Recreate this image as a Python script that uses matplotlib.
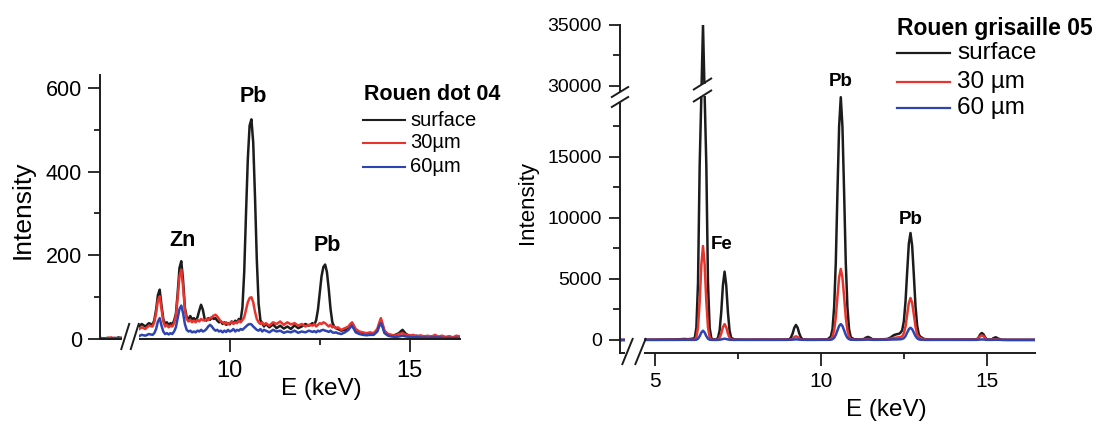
import numpy as np
import matplotlib
matplotlib.use("Agg")
import matplotlib.pyplot as plt
from matplotlib.lines import Line2D
from matplotlib.patches import Rectangle

# ---------------- data : left panel (Rouen dot 04) ----------------
E_left = [6.4, 6.5, 6.6, 6.7, 6.8, 6.9, 7.0,
          7.45, 7.55, 7.65, 7.75, 7.85, 7.9, 7.95, 8.0, 8.05, 8.1,
          8.15, 8.2, 8.25, 8.3, 8.35, 8.4, 8.45, 8.5, 8.55, 8.6,
          8.65, 8.7, 8.75, 8.8, 8.85, 8.9, 8.95, 9.0, 9.05, 9.1,
          9.15, 9.2, 9.25, 9.3, 9.35, 9.4, 9.45, 9.5, 9.55, 9.6,
          9.65, 9.7, 9.75, 9.8, 9.85, 9.9, 9.95, 10.0, 10.05, 10.1,
          10.15, 10.2, 10.25, 10.3, 10.35, 10.4, 10.45, 10.5, 10.55, 10.6,
          10.65, 10.7, 10.75, 10.8, 10.85, 10.9, 10.95, 11.0, 11.1, 11.2,
          11.3, 11.4, 11.5, 11.6, 11.7, 11.8, 11.9, 12.0, 12.1, 12.2,
          12.3, 12.35, 12.4, 12.45, 12.5, 12.55, 12.6, 12.65, 12.7, 12.75,
          12.8, 12.85, 12.9, 12.95, 13.0, 13.1, 13.2, 13.3, 13.35, 13.4,
          13.45, 13.5, 13.6, 13.7, 13.8, 13.9, 14.0, 14.1, 14.15, 14.2,
          14.25, 14.3, 14.4, 14.5, 14.6, 14.7, 14.8, 14.9, 15.0, 15.1,
          15.2, 15.3, 15.4, 15.5, 15.6, 15.7, 15.8, 15.9, 16.0, 16.1,
          16.2, 16.3, 16.4]
surface_left = [2, 0, 3, 1, 0, 4, 2,
                28, 36, 30, 38, 34, 45, 70, 105, 118, 80,
                48, 36, 40, 33, 38, 35, 44, 60, 110, 170,
                186, 140, 75, 52, 48, 55, 47, 50, 44, 52,
                68, 82, 70, 48, 44, 50, 46, 52, 48, 50,
                44, 40, 42, 36, 40, 34, 38, 35, 42, 38,
                44, 40, 48, 45, 75, 160, 300, 430, 510, 525,
                470, 340, 190, 85, 45, 38, 30, 36, 28, 35,
                26, 32, 25, 30, 24, 33, 26, 30, 36, 32,
                38, 34, 45, 70, 110, 150, 172, 178, 160, 120,
                72, 40, 30, 26, 24, 20, 22, 24, 30, 34,
                26, 20, 16, 14, 12, 14, 12, 20, 32, 42,
                30, 18, 10, 8, 10, 14, 22, 12, 8, 6,
                8, 5, 7, 4, 6, 5, 4, 6, 3, 5,
                4, 3, 5]
um30_left = [3, 1, 2, 4, 1, 2, 3,
             22, 28, 24, 32, 30, 40, 62, 92, 102, 72,
             42, 30, 34, 28, 32, 30, 38, 55, 100, 150,
             166, 125, 70, 48, 42, 46, 40, 44, 40, 46,
             42, 48, 45, 44, 48, 46, 50, 52, 56, 58,
             54, 48, 42, 40, 36, 40, 35, 38, 42, 36,
             40, 38, 44, 40, 45, 52, 70, 88, 98, 100,
             88, 65, 48, 40, 36, 40, 34, 38, 32, 40,
             36, 42, 34, 40, 35, 38, 32, 36, 30, 34,
             32, 36, 30, 34, 38, 36, 40, 38, 34, 30,
             34, 28, 30, 26, 28, 22, 26, 30, 36, 40,
             32, 24, 18, 16, 14, 16, 14, 24, 38, 50,
             36, 20, 12, 10, 8, 12, 14, 10, 8, 10,
             6, 9, 6, 8, 5, 10, 6, 8, 5, 7,
             4, 8, 6]
um60_left = [1, 2, 0, 1, 3, 1, 2,
             6, 10, 8, 12, 10, 14, 24, 42, 50, 32,
             18, 12, 14, 11, 14, 12, 18, 28, 50, 72,
             80, 62, 36, 22, 18, 20, 16, 18, 16, 20,
             18, 22, 18, 20, 24, 30, 34, 30, 24, 20,
             22, 18, 20, 16, 20, 17, 22, 18, 20, 24,
             18, 22, 20, 24, 22, 26, 30, 34, 36, 35,
             30, 26, 22, 20, 24, 18, 22, 20, 16, 22,
             18, 20, 15, 18, 16, 20, 15, 18, 16, 20,
             17, 19, 16, 20, 18, 21, 22, 20, 19, 17,
             20, 16, 15, 16, 14, 12, 16, 22, 28, 32,
             24, 16, 12, 10, 9, 10, 10, 18, 30, 38,
             28, 14, 8, 6, 5, 6, 8, 6, 5, 4,
             5, 3, 4, 3, 4, 3, 4, 3, 2, 3,
             2, 3, 2]
labels_left = ["surface", "30µm", "60µm"]
title_left = "Rouen dot 04"
peaks_left = [("Pb", 253, 97), ("Zn", 183, 240), ("Pb", 327, 245)]

# ---------------- data : right panel (Rouen grisaille 05) ----------------
E_right = [3.95, 4.2, 4.5, 4.8, 5.1, 5.4, 5.7, 5.9, 6.0, 6.1,
           6.2, 6.25, 6.3, 6.35, 6.4, 6.45, 6.5, 6.55, 6.6, 6.65,
           6.7, 6.75, 6.8, 6.85, 6.9, 6.95, 7.0, 7.05, 7.1, 7.15,
           7.2, 7.25, 7.3, 7.4, 7.6, 7.8, 8.0, 8.3, 8.6, 8.9,
           9.05, 9.1, 9.15, 9.2, 9.25, 9.3, 9.35, 9.4, 9.45, 9.6,
           9.8, 10.0, 10.2, 10.3, 10.35, 10.4, 10.45, 10.5, 10.55, 10.6,
           10.65, 10.7, 10.75, 10.8, 10.85, 10.9, 11.0, 11.2, 11.3, 11.35,
           11.42, 11.5, 11.55, 11.7, 11.9, 12.0, 12.1, 12.2, 12.3, 12.35,
           12.4, 12.45, 12.5, 12.55, 12.6, 12.65, 12.7, 12.75, 12.8, 12.85,
           12.9, 12.95, 13.0, 13.05, 13.1, 13.2, 13.4, 13.7, 14.0, 14.3,
           14.6, 14.7, 14.75, 14.8, 14.85, 14.9, 14.95, 15.0, 15.1, 15.15,
           15.2, 15.27, 15.35, 15.45, 15.6, 15.9, 16.2, 16.5]
surface_right = [0, 0, 10, 20, 30, 40, 50, 80, 60, 90,
                 140, 1000, 4700, 14350, 28000, 35000, 28000, 14350, 4700, 1000,
                 140, 60, 40, 60, 160, 760, 2300, 4480, 5600, 4480,
                 2300, 760, 160, 40, 30, 25, 30, 35, 30, 40,
                 60, 200, 530, 1000, 1230, 1000, 530, 200, 60, 30,
                 30, 40, 50, 270, 875, 2690, 6370, 12140, 17500, 19900,
                 17500, 12140, 6370, 2690, 875, 220, 60, 40, 80, 180,
                 250, 150, 60, 40, 60, 80, 200, 400, 480, 500,
                 600, 800, 1530, 3150, 5600, 7900, 8770, 7720, 5350, 2800,
                 1180, 450, 250, 180, 90, 40, 30, 30, 30, 40,
                 40, 60, 200, 450, 570, 450, 200, 60, 30, 40,
                 150, 220, 100, 20, 10, 10, 10, 10]
um30_right = [0, 0, 5, 10, 10, 15, 15, 20, 20, 25,
              30, 220, 1040, 3160, 6160, 7700, 6160, 3160, 1040, 220,
              30, 15, 15, 20, 40, 175, 530, 1040, 1300, 1040,
              530, 175, 40, 15, 15, 15, 15, 15, 15, 20,
              20, 40, 100, 240, 300, 240, 100, 40, 20, 15,
              15, 20, 25, 65, 260, 790, 1860, 3550, 5120, 5820,
              5120, 3550, 1860, 790, 260, 65, 20, 20, 40, 70,
              80, 50, 25, 20, 30, 50, 100, 170, 200, 220,
              250, 300, 560, 1100, 2100, 3030, 3440, 3030, 2100, 1100,
              460, 250, 150, 100, 60, 30, 20, 20, 20, 20,
              20, 40, 150, 300, 380, 300, 150, 40, 20, 20,
              40, 60, 30, 10, 5, 5, 5, 5]
um60_right = [0, 0, 0, 5, 5, 5, 5, 10, 10, 10,
              10, 20, 100, 310, 610, 760, 610, 310, 100, 20,
              10, 5, 5, 5, 10, 20, 40, 80, 100, 80,
              40, 20, 10, 5, 5, 5, 5, 5, 5, 5,
              10, 15, 25, 40, 50, 40, 25, 15, 10, 5,
              5, 10, 10, 20, 60, 175, 415, 790, 1145, 1300,
              1145, 790, 415, 175, 60, 20, 10, 10, 15, 25,
              30, 20, 10, 10, 15, 20, 30, 40, 45, 50,
              60, 80, 150, 320, 610, 880, 1000, 880, 610, 320,
              135, 50, 20, 15, 10, 5, 5, 5, 5, 5,
              5, 10, 20, 35, 40, 35, 20, 10, 5, 5,
              10, 15, 10, 5, 0, 0, 0, 0]
labels_right = ["surface", "30 µm", "60 µm"]
title_right = "Rouen grisaille 05"
peaks_right = [("Pb", 841, 81), ("Fe", 722, 244), ("Pb", 911, 220)]

# ---------------- style ----------------
W, H = 1102, 421
COLORS = ["#1c1c1c", "#e8342c", "#2e44b2"]
plt.rcParams["font.family"] = ["Liberation Sans", "DejaVu Sans"]

fig = plt.figure(figsize=(W / 100, H / 100), dpi=100)


def add_axes_px(l, t, r, b):
    return fig.add_axes([l / W, 1 - b / H, (r - l) / W, (b - t) / H])


def ftext(x, y, s, **kw):
    fig.text(x / W, 1 - y / H, s, **kw)


def fline(xs, ys, **kw):
    fig.add_artist(Line2D([x / W for x in xs], [1 - y / H for y in ys],
                          transform=fig.transFigure, **kw))


def fpatch(x0, y0, x1, y1):
    fig.add_artist(Rectangle((x0 / W, 1 - y1 / H), (x1 - x0) / W, (y1 - y0) / H,
                             transform=fig.transFigure, facecolor="white",
                             edgecolor="none", zorder=5))


def slashes(pairs, lw=1.4):
    for (x0, y0, x1, y1) in pairs:
        fline([x0, x1], [y0, y1], color="#1c1c1c", lw=lw, zorder=6,
              solid_capstyle="butt")


def style_axes(ax, lab_size):
    for s in ["top", "right"]:
        ax.spines[s].set_visible(False)
    for s in ["left", "bottom"]:
        ax.spines[s].set_linewidth(1.4)
        ax.spines[s].set_color("#1c1c1c")
    ax.tick_params(which="major", direction="out", length=7.5, width=1.3,
                   color="#1c1c1c", labelsize=lab_size, pad=4)
    ax.tick_params(which="minor", direction="out", length=4, width=1.3,
                   color="#1c1c1c")


# ---------------- left panel ----------------
axL = add_axes_px(100, 75.4, 460, 340.3)
for yv, c in zip([surface_left, um30_left, um60_left], COLORS):
    axL.plot(E_left, yv, color=c, lw=1.8, solid_joinstyle="round")
axL.set_xlim(6.39, 16.4)
axL.set_ylim(-3, 630)
style_axes(axL, 15.5)
axL.spines["bottom"].set_position(("data", 0))
axL.spines["left"].set_bounds(0, 630)
axL.set_yticks([0, 200, 400, 600])
axL.set_yticks([100, 300, 500], minor=True)
axL.set_xticks([10, 15])
axL.set_xticks([12.5], minor=True)
axL.tick_params(axis="x", labelsize=17, pad=6, length=9)
axL.tick_params(axis="y", length=9, pad=4)

ftext(23, 210, "Intensity", rotation=90, ha="center", va="center", fontsize=19)
ftext(321, 389, "E (keV)", ha="center", va="center", fontsize=17.5)
for s, x, y in peaks_left:
    ftext(x, y, s, ha="center", va="center", fontsize=15.5, fontweight="bold")
ftext(364, 95, title_left, ha="left", va="center", fontsize=15.5,
      fontweight="bold")
for i, (lab, c) in enumerate(zip(labels_left, COLORS)):
    y = [120, 143, 167][i]
    fline([363, 405], [y, y], color=c, lw=1.5)
    ftext(410, y, lab, ha="left", va="center", fontsize=14.5)

# x-axis break of the left panel
fpatch(122, 322, 138.5, 352)
slashes([(121, 350, 129.5, 323), (130.5, 350, 139, 323)])

# ---------------- right panel ----------------
B1, B2 = 20000.0, 29180.0
GAP = B2 - B1


def fwd(y):
    y = np.asarray(y, dtype=float)
    return np.where(y <= B1, y, np.where(y >= B2, y - GAP, B1))


def inv(t):
    t = np.asarray(t, dtype=float)
    return np.where(t <= B1, t, t + GAP)


axR = add_axes_px(620, 25, 1035, 353)
axR.set_yscale("function", functions=(fwd, inv))
for yv, c in zip([surface_right, um30_right, um60_right], COLORS):
    axR.plot(E_right, yv, color=c, lw=1.8, solid_joinstyle="round")
axR.set_xlim(3.95, 16.45)
axR.set_ylim(-1070, 35000)
style_axes(axR, 14)
axR.set_yticks([0, 5000, 10000, 15000, 30000, 35000])
axR.set_yticklabels(["0", "5000", "10000", "15000", "30000", "35000"])
axR.set_yticks([2500, 7500, 12500, 17500, 32500], minor=True)
axR.set_xticks([5, 10, 15])
axR.set_xticks([7.5, 12.5], minor=True)
axR.tick_params(axis="y", length=8, pad=5)
axR.tick_params(axis="x", length=9, pad=5, labelsize=15)
axR.tick_params(axis="y", which="minor", length=5)

ftext(528, 202, "Intensity", rotation=90, ha="center", va="center", fontsize=16)
ftext(886, 410, "E (keV)", ha="center", va="center", fontsize=17.5)
for s, x, y in peaks_right:
    ftext(x, y, s, ha="center", va="center", fontsize=13.5, fontweight="bold")
ftext(897, 28, title_right, ha="left", va="center", fontsize=16.5,
      fontweight="bold")
for i, (lab, c) in enumerate(zip(labels_right, COLORS)):
    y = [53, 82, 108][i]
    fline([897, 950], [y, y], color=c, lw=1.6)
    ftext(957, y, lab, ha="left", va="center", fontsize=17.5)

# x-axis break (right panel)
fpatch(625, 335, 644, 368)
slashes([(622, 365, 633, 338), (635, 365, 646, 338)])
# y-axis break (right panel)
fpatch(614, 92, 626, 101.5)
slashes([(611, 97.5, 629, 86.5), (611, 107.5, 629, 96.5)])
# break drawn on the Fe peak
fpatch(694, 84, 712, 96)
slashes([(693, 90, 712, 78), (693, 102, 712, 90)])

fig.savefig("out.png", dpi=100)
